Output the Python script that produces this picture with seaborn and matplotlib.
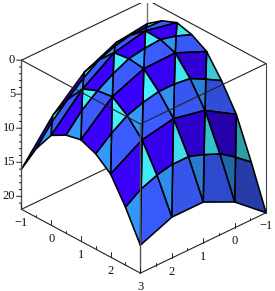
"""
Shaded surface inside a boxed 3D frame, seen from above
"""

import numpy as np
import matplotlib
matplotlib.use('Agg')
import matplotlib.pyplot as plt
import seaborn as sns
from mpl_toolkits.mplot3d import proj3d
from mpl_toolkits.mplot3d.art3d import Poly3DCollection

# grid of the surface, half unit steps
a_vals = [-1, -0.5, 0, 0.5, 1, 1.5, 2, 2.5, 3]
b_vals = [3, 2.5, 2, 1.5, 1, 0.5, 0, -0.5, -1]

# depth, one row per b value
z_rows = [
    [16.0, 11.8, 8.7, 7.5, 7.0, 7.9, 9.7, 13.4, 17.8],
    [12.9, 9.0, 6.0, 5.0, 4.7, 6.0, 7.9, 11.8, 16.5],
    [10.3, 6.8, 4.1, 3.2, 2.9, 4.5, 6.9, 10.9, 15.9],
    [8.1, 4.8, 2.3, 1.8, 1.8, 3.7, 6.3, 10.4, 15.7],
    [6.2, 3.2, 1.0, 0.7, 1.0, 3.2, 6.0, 10.4, 15.9],
    [5.0, 2.3, 0.3, 0.3, 0.9, 3.2, 6.5, 11.2, 16.9],
    [4.1, 1.8, 0.0, 0.1, 0.9, 3.5, 7.0, 12.2, 18.1],
    [3.7, 1.8, 0.3, 0.7, 1.8, 4.7, 8.4, 13.8, 20.0],
    [3.5, 1.9, 1.0, 1.6, 2.9, 6.0, 9.8, 15.6, 21.9],
]

# brightness of each unit cell, one row per a step
cell_shade = [
    [1.0, 1.0, 1.0, 1.0],
    [1.0, 1.0, 1.0, 0.96],
    [1.0, 1.0, 0.95, 0.84],
    [0.98, 0.92, 0.8, 0.66],
]

face_colors = ['#3a5cff', '#3a00ff', '#3399ff', '#44f0ff']  # quad/tri of both bands

a_ticks = [-1, 0, 1, 2, 3]
b_ticks = [3, 2, 1, 0, -1]
z_ticks = [0, 5, 10, 15, 20]
z_bottom = 21.9


def build_faces():
    """Split every unit cell into two triangles and two quads"""
    z = np.array(z_rows)
    palette = sns.color_palette(face_colors)

    def node(i, j):
        return (a_vals[i], b_vals[j], z[j, i])

    verts, colors = [], []
    for ci in range(4):
        for cj in range(4):
            i, j = ci * 2, cj * 2
            pieces = [
                ([node(i + 1, j + 1), node(i + 1, j + 2), node(i + 2, j + 2), node(i + 2, j)], 0),
                ([node(i, j), node(i, j + 2), node(i + 1, j + 1), node(i + 1, j)], 1),
                ([node(i + 1, j), node(i + 1, j + 1), node(i + 2, j)], 2),
                ([node(i, j + 2), node(i + 1, j + 1), node(i + 1, j + 2)], 3),
            ]
            for poly, kind in pieces:
                verts.append(poly)
                colors.append(np.array(palette[kind]) * cell_shade[ci][cj])
    return verts, colors


def draw_box(ax):
    """Frame of the box, parts behind the surface first"""
    lo, hi = -1, 3
    back = dict(color='#222222', lw=0.8, zorder=1)
    front = dict(color='#222222', lw=0.8, zorder=5)
    ax.plot([lo, lo], [hi, lo], [z_bottom, z_bottom], **back)
    ax.plot([lo, hi], [lo, lo], [z_bottom, z_bottom], **back)
    ax.plot([lo, lo], [hi, lo], [0, 0], **back)
    ax.plot([lo, hi], [lo, lo], [0, 0], **back)
    ax.plot([lo, lo], [lo, lo], [0, z_bottom], color='#777777', lw=1.0, zorder=1)
    ax.plot([hi, hi], [lo, lo], [0, z_bottom], color='#444444', lw=0.8, zorder=1)
    ax.plot([lo, hi], [hi, hi], [0, 0], **front)
    ax.plot([hi, hi], [hi, lo], [0, 0], **front)
    ax.plot([lo, hi], [hi, hi], [z_bottom, z_bottom], **front)
    ax.plot([hi, hi], [hi, lo], [z_bottom, z_bottom], **front)
    ax.plot([lo, lo], [hi, hi], [0, z_bottom], color='#555555', lw=1.0, zorder=5)
    ax.plot([hi, hi], [hi, hi], [0, z_bottom], color='#555555', lw=1.0, zorder=5)


def draw_ticks(ax):
    """Ticks on the three visible axes"""
    tick = dict(color='#222222', lw=0.7, zorder=5)
    # ticks on the two floor edges stand upright
    for v in np.arange(-1, 3.01, 0.5):
        size = 0.75 if float(v).is_integer() else 0.4
        ax.plot([v, v], [3, 3], [z_bottom, z_bottom - size], **tick)
        ax.plot([3, 3], [v, v], [z_bottom, z_bottom - size], **tick)
    # ticks on the depth axis point left on screen
    for v in range(0, 22):
        size = 0.08 if v % 5 == 0 else 0.035
        ax.plot([-1, -1 - size], [3, 3 + size], [v, v], **tick)


def draw_labels(ax):
    """Tick labels, placed where the axis points land on the flat view"""
    proj = ax.get_proj()

    def label(x, y, z, text, offset, ha):
        px, py, _ = proj3d.proj_transform(x, y, z, proj)
        ax.annotate(text.replace('-', '\u2212'), xy=(px, py), xycoords='data',
                    xytext=offset, textcoords='offset points', ha=ha, va='center',
                    family='Liberation Serif', fontsize=9, color='#111111',
                    annotation_clip=False, zorder=6)

    for v in z_ticks:
        label(-1, 3, v, str(v), (-4.5, 0), 'right')
    for v in a_ticks:
        label(v, 3, z_bottom, str(v), (0, -9.8), 'center')
    for v in b_ticks[1:]:
        label(3, v, z_bottom, str(v), (0, -9.8), 'center')


def main():
    sns.set_theme(style='white')

    fig = plt.figure(figsize=(2.75, 2.91), dpi=100)
    ax = fig.add_axes([2.55 / 275, 13.3 / 291, 1, 275 / 291],
                      projection='3d', computed_zorder=False)
    ax.set_proj_type('ortho')
    ax.view_init(elev=30.5, azim=-43.4)
    ax.set_box_aspect((1, 1, 1), zoom=1.058)
    ax.set_axis_off()

    verts, colors = build_faces()
    surface = Poly3DCollection(verts, facecolors=colors, edgecolors='black',
                               linewidths=1.15, zorder=3)
    ax.add_collection3d(surface)

    draw_box(ax)
    draw_ticks(ax)

    ax.set_xlim(-1, 3, view_margin=0)
    ax.set_ylim(3, -1, view_margin=0)
    ax.set_zlim(z_bottom, 0, view_margin=0)
    draw_labels(ax)

    fig.savefig('out.png', dpi=100)
    plt.close(fig)


if __name__ == "__main__":
    main()
